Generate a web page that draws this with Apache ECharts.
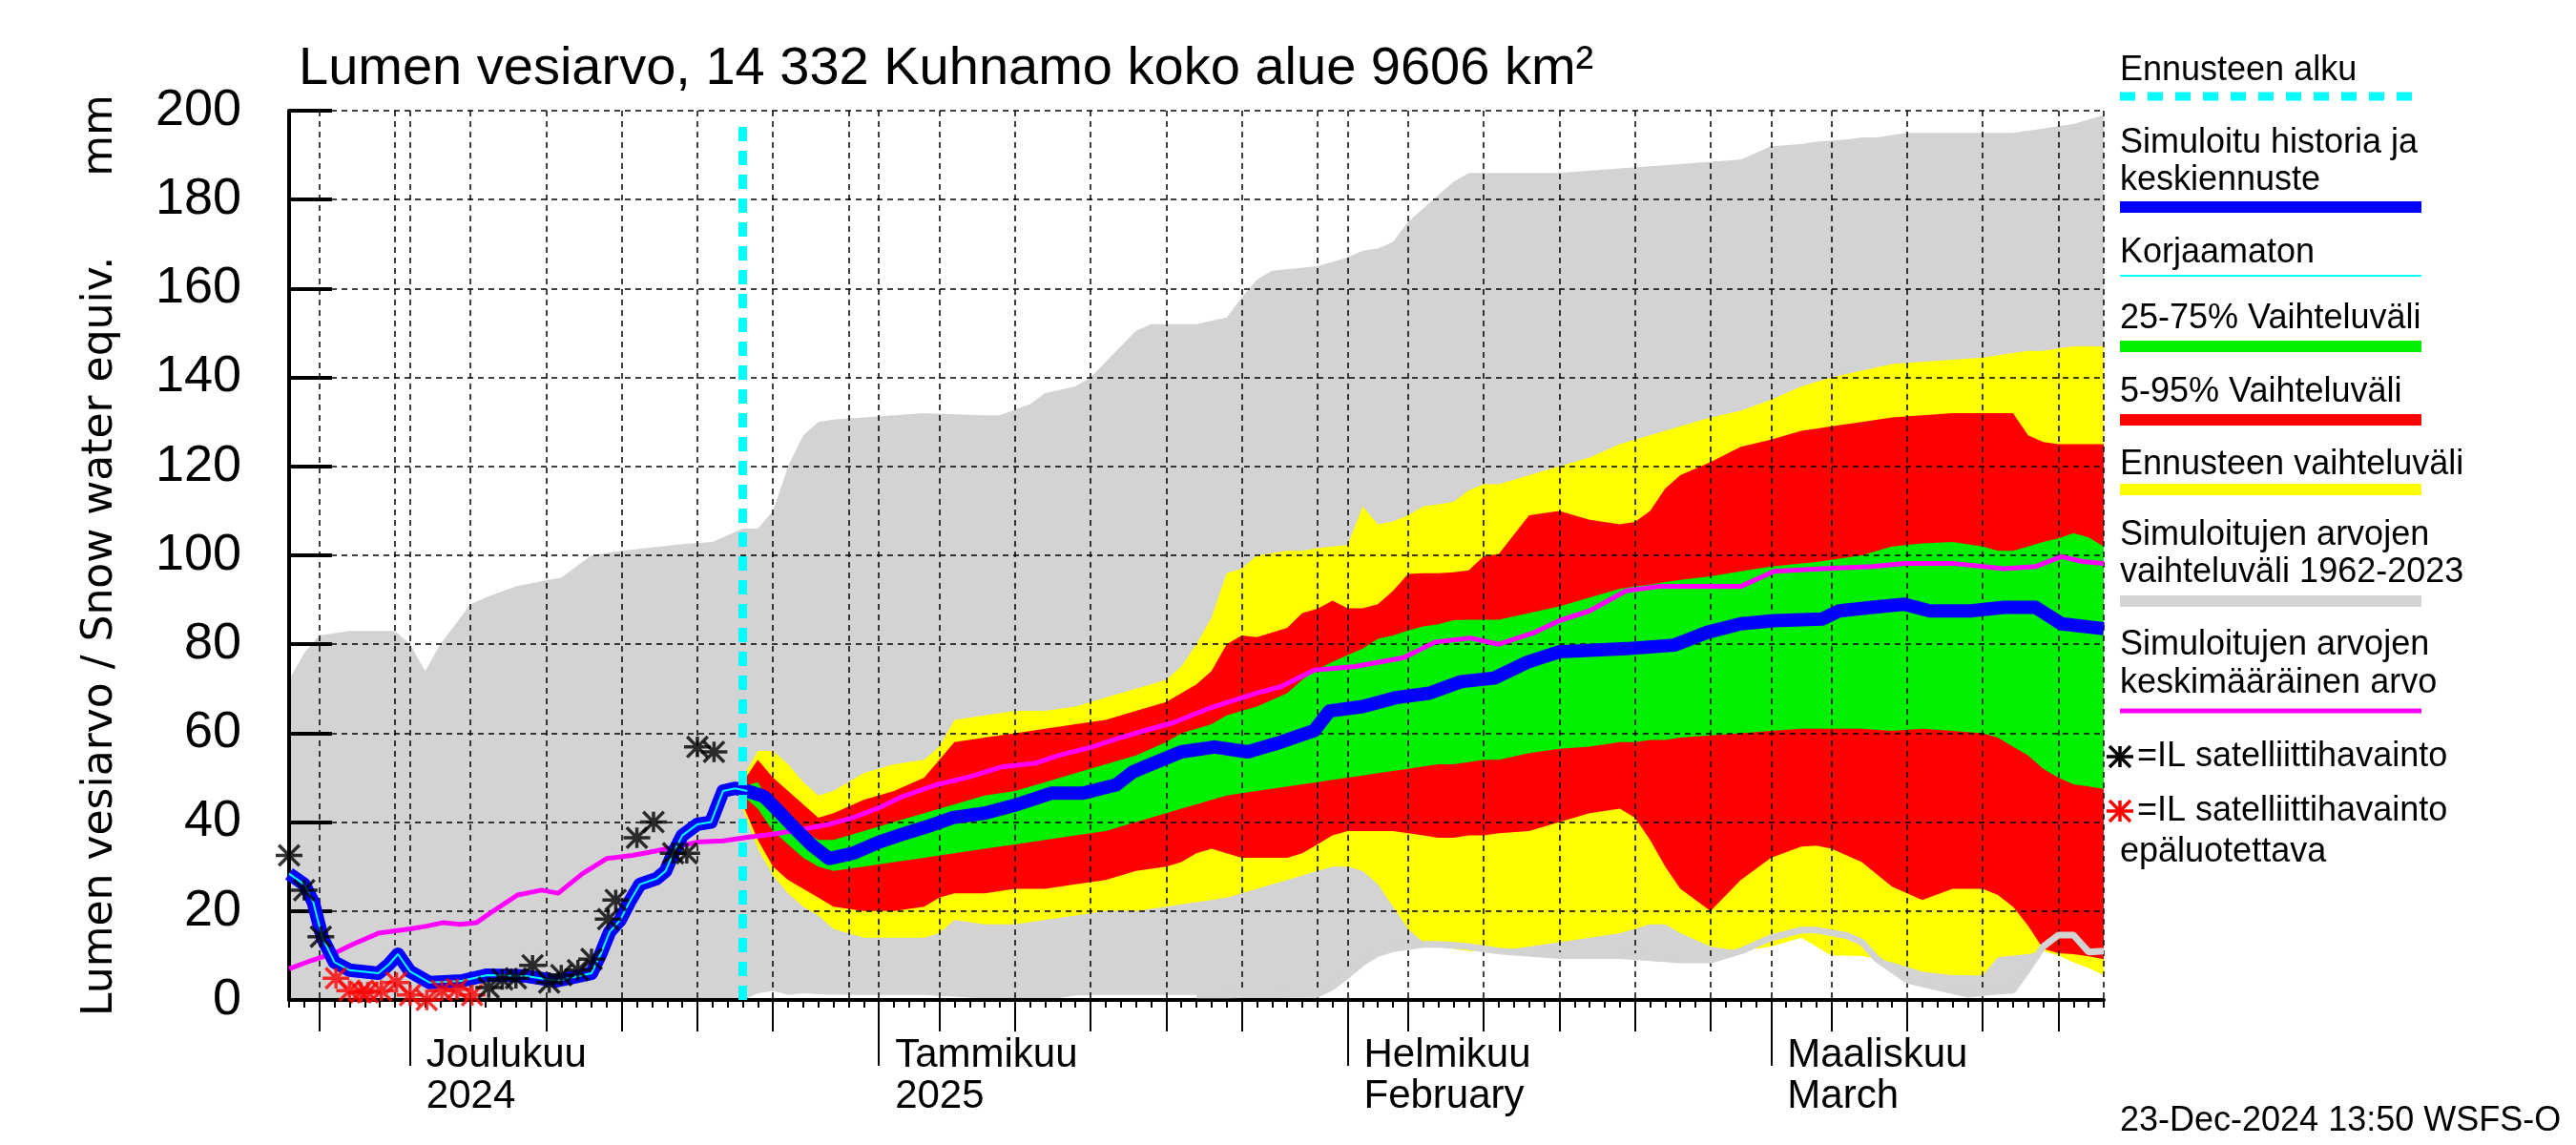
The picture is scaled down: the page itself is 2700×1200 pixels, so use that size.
<!DOCTYPE html>
<html>
<head>
<meta charset="utf-8">
<script src="https://cdn.jsdelivr.net/npm/echarts@6/dist/echarts.min.js"></script>
<style>html,body{margin:0;padding:0;background:#fff}#c{width:2700px;height:1200px}</style>
</head>
<body>
<div id="c"></div>
<script>
// ---------- DATA (day index 0 = 23 Nov 2024, 120 = 23 Mar 2025) ----------
const N_DAYS = 120;
const FORECAST_START = 30;
const MONTH_STARTS = [8, 39, 70, 98];
const MONTH_LABELS = ['Joulukuu\n2024', 'Tammikuu\n2025', 'Helmikuu\nFebruary', 'Maaliskuu\nMarch'];
const MID_TICK_DAYS = [2, 12, 17, 22, 27, 32, 43, 48, 53, 58, 63, 74, 79, 84, 89, 94, 102, 107, 112, 117];
const GRID_DAYS = [2, 7, 8, 12, 17, 22, 27, 32, 37, 39, 43, 48, 53, 58, 63, 68, 70, 74, 79, 84, 89, 94, 98, 102, 107, 112, 117, 120];

// Historical range 1962-2023 (grey)
const GREY_DAYS = [0,1,2,4,7,8,9,10,12,13,15,18,20,22,26,28,30,31,32,33,34,35,36,38,42,46,47,49,50,52,53,55,56,57,60,62,63,64,65,68,69,70,71,72,73,74,75,76,77,78,80,84,88,92,94,96,98,100,101,103,104,105,107,109,111,113,114,115,116,117,118,119,120];
const GREY_MAX = [72,78,82,83,83,80,74,80,89,90.5,93,95,100,101,102.5,103,106,106,110,120,127,130,130.5,131,132,131.5,131.5,134,136.5,138,140,147,150.5,152,152,153.5,158,162,164,165,166,167,168.5,169,170.5,175,178,181,184,186,186,186,187,188,188.5,189,192,192.5,193,193.5,194,194,195,195,195,195,195,195.5,196,196.5,197,198,199];
const GREY_MIN = [0,0,0,0,0,0,0,0,0,0,0,0,0,0,0,0,0,1.5,2,1.2,1.5,1.3,1.2,1.1,1.1,0.3,0,0,0,1,1.1,1.1,1.1,1.1,1.1,1.1,1.2,1.2,1.2,1.3,3,5.6,8.4,10.5,11.5,12,12.5,12.5,12.3,12,11,10,10,9,9,11,14,15.7,15.7,14.5,13,9.2,4.5,2.8,1.3,2,2.2,7,12,14.6,14.6,10.8,11];

// Forecast ranges
const FC_DAYS = [30,31,32,33,34,35,36,38,40,42,43,44,46,48,50,52,54,56,58,59,60,61,62,63,64,66,67,68,69,70,71,72,73,74,75,76,77,78,79,80,82,84,86,88,89,90,91,92,94,96,98,100,101,102,104,106,108,110,112,113,114,115,116,117,118,119,120];
const FC_MAX = [50,56,56,53,49,46,47,51,53,54,57,63,64,65,65,66,68,70,72,75,80,86,96,97,100,101,101,101.6,102,102.3,111,107,107.6,109,111,111.5,112,114.6,116,116,118,120,122,125,126,127,128,129,131,132.5,135,138,139,140,141.5,143,143.5,144,144.5,145,145.5,146,146,146.5,147,147,147];
const P95 = [49,54,50,47,44,41,42,45,47,50,54,58,59,60,61,62,63,65,67,69,71,74,80,82,81.6,83.7,87,88,89.8,88.1,88.1,89,92,95.8,96,96,96.2,96.6,99.8,100.3,109,110,108,107,107.5,110,115,118,121,124.4,126,128,128.5,129,130,131,131.5,132,132,132,132,127,125.5,125,125,125,125];
const P75 = [48,49,43,40,38,36,36,38,40,42,43,44,46,47,49,51,53,55,58,60,61,62,64,65,66,69,72,74.4,76,77.6,79,81.2,82,83.1,84,84.5,85.4,85.5,85.5,85.5,87,88.5,90.5,92.5,93,93.4,94,94.5,95.3,96.4,97.5,98.2,98.5,99,100,102,102.7,103,102,101,101,102,103,103.8,105,104,102];
const P25 = [46,43,38,35,32,30,29,30,31,32,32.5,33,34,35,36,37,38,40,42,43,44,45,46,46.5,47,48,48.5,49,49.5,50,50.5,51,51.5,52,52.5,53,53,53.5,54,54,55.5,56.5,57,58,58,58.5,58.5,59,59.5,60,60.5,61,61,61,61,60.5,61,60.5,60,59,57,55,52,50,48.5,48,47.5];
const P5 = [44,36,30,27,25,23,21,20,20,21,23,24,24,25,25,26,27,29,30,31,33,34,33,32,32,32,33,35,37,38,38,38,38,37.5,37,36.5,36.5,37,37,37.5,38,40,42,43,41,36,30,25,20,27,32,34.5,34.7,34,31,25.5,22.5,25,25,23.6,21,16.7,11.5,10.5,10.3,9.8,9.2];
const FC_MIN = [43,34,28,24,21,19,16,14,14,14,15,18,17,17,18,19,20,20,21,21.5,22,22.5,23,24,25,27,28,29,30,30,29,26,21,16,13,12,11.5,11,11,11,12,13,14,15,16,17,17,15,12,11,12,14,12,10,9.9,8.5,6.4,5.6,5.5,9.6,10,10.3,11,10,8.5,7.2,5.6];

// Simulated history + median forecast (blue)
const SIM_DAYS = [0,1,1.6,2.2,3,4,5.9,6.6,7.2,8,9.3,11.4,13.1,15.6,17.7,20,20.6,21.2,21.9,22.5,23.2,24.3,24.9,25.4,26,27,27.9,28.7,29.5,30.3,31.4,32.5,33.5,34.6,35.7,37.3,39,40.6,42.2,43.9,46,48.2,50.4,52.5,54.7,55.8,57,59,61.2,63.4,65.6,67.8,68.8,71,73.2,75.4,77.5,79.7,81.9,84,88.4,91.6,93.8,96,98.2,101.4,102.5,104.7,106.8,108.5,111.2,113.4,115.5,117.2,120];
const SIM_SWE = [28.4,26,22,14,8.5,6.7,6,8,10.3,6.4,3.9,4.3,5.6,5.4,4.3,6,10.3,15.3,18,22,26,27.3,29,33,37,39.5,40,47,47.6,47,45.8,42,38.4,34.7,31.8,33,35.5,37.3,39,41,42,44,46.5,46.5,48.4,51.3,53,55.8,56.9,55.8,58,60.6,65,66,68,69,71.6,72.4,76,78.3,79,79.8,82.7,84.6,85.3,85.7,87.5,88.3,89,87.5,87.5,88.3,88.3,84.6,83.5];
// Uncorrected (thin cyan, history part)
const RAW_DAYS = [0,1,1.6,2.2,3,4,5.9,6.6,7.2,8,9.3,11.4,13.1,15.6,17.7,20,20.6,21.2,21.9,22.5,23.2,24.3,24.9,25.4,26,27,27.9,28.7,29.5,30.3];
const RAW_SWE = [28.4,26,22,14,8.5,6.7,6,8,10.3,6.4,3.9,4.3,5.6,5.4,4.3,6,10.3,15.3,18,22,26,27.3,29,33,37,39.5,40,47,47.6,47];

// Mean of simulated values (magenta)
const MEAN_DAYS = [0,1.5,3.1,4.2,5.9,8,9.1,10.2,11.3,12.4,13.5,15.1,16.7,17.8,19.4,21,22.7,23.8,25.4,27,28.7,30.3,32,34,35.7,37.3,39,40.6,42.8,45,47.1,49.3,50.9,53.1,54.7,57,58.5,60.7,62.3,64,65.6,67.8,70.5,73.7,75.8,78.1,80,82.4,84,86,88.4,90.6,93.8,96,98.2,101.4,104.7,106.8,110,113.4,115.5,117.2,118.6,120];
const MEAN_SWE = [7,8.9,10.7,12.5,15,16,16.6,17.4,17,17.4,20,23.6,24.7,24,28.4,31.8,32.5,33.2,34.3,35.5,35.8,36.6,37.3,38.4,39.5,41,43.2,45.8,48.4,50.2,52.4,53.2,55,56.9,58.7,61,62.4,65.4,67.2,69,70.5,74.2,75,77,80.5,81.4,80,82.7,85.3,87.5,92,93,93,93,96.4,97,97.5,98.2,98.2,97,97.5,99.7,98.6,98.2];

// Satellite observations
const OBS_DAYS = [0,1,2.1,13.2,14.1,15,16.1,17.2,18,19.1,20,21.1,21.6,23,24.1,25.4,26.3,27,28.1];
const OBS_SWE = [32.5,24.7,14.2,2.8,4.6,4.9,7.8,3.9,5.6,6.7,9.2,18.2,22.5,36.5,40,33,33,56.9,55.8];
const OBS_BAD_DAYS = [3.1,4,4.75,5.2,6.1,7.1,8,9.1,10.1,11.1,12.1];
const OBS_BAD_SWE = [4.9,2.1,1.7,1.7,2.1,3.9,1.1,0,2.1,2.4,1.1];

// ---------- CHART ----------
const FONT = 'Liberation Sans, Arial, Helvetica, sans-serif';
const C_GREY = '#d3d3d3', C_YEL = '#ffff00', C_RED = '#ff0000', C_GRN = '#00f000',
      C_BLUE = '#0000ff', C_MAG = '#ff00ff', C_CYAN = '#00ffff';
const STAR = 'path://M-13,0L13,0M-10,-10L10,10M-10,10L10,-10M0,-10L0,10';

const cats = [];
for (let i = 0; i <= N_DAYS; i++) cats.push(String(i));

function pts(days, vals) { return days.map((d, i) => [d, vals[i]]); }
// filled band between lo and hi, drawn as one polygon through the axes' coordinate system
function band(days, lo, hi, color) {
  const data = days.map((d, i) => [d, lo[i], hi[i]]);
  return {
    type: 'custom', xAxisIndex: 3, yAxisIndex: 0, z: 1, silent: true, animation: false,
    data: data, encode: { x: 0, y: [1, 2] },
    renderItem: function (params, api) {
      if (params.dataIndex !== 0) return null;
      const top = [], bot = [];
      for (let i = 0; i < data.length; i++) {
        top.push(api.coord([data[i][0], data[i][2]]));
        bot.unshift(api.coord([data[i][0], data[i][1]]));
      }
      return { type: 'polygon', shape: { points: top.concat(bot) }, style: { fill: color, stroke: null } };
    }
  };
}

const series = [
  band(GREY_DAYS, GREY_MIN, GREY_MAX, C_GREY),
  band(FC_DAYS, FC_MIN, FC_MAX, C_YEL),
  band(FC_DAYS, P5, P95, C_RED),
  band(FC_DAYS, P25, P75, C_GRN),
  { type: 'line', xAxisIndex: 3, z: 3, symbol: 'none', animation: false,
    data: pts(GREY_DAYS, GREY_MIN).filter(p => p[0] >= 60),
    lineStyle: { color: C_GREY, width: 7 } },
  { type: 'line', xAxisIndex: 3, z: 3, symbol: 'none', animation: false,
    data: pts(MEAN_DAYS, MEAN_SWE), lineStyle: { color: C_MAG, width: 5 } },
  { type: 'line', xAxisIndex: 3, z: 4, symbol: 'none', animation: false,
    data: pts(SIM_DAYS, SIM_SWE), lineStyle: { color: C_BLUE, width: 14, join: 'round' } },
  { type: 'line', xAxisIndex: 3, z: 4, symbol: 'none', animation: false,
    data: pts(RAW_DAYS, RAW_SWE), lineStyle: { color: C_CYAN, width: 2 } },
  { type: 'line', xAxisIndex: 3, z: 4, symbol: 'none', animation: false,
    data: [[FORECAST_START, 0], [FORECAST_START, 197.5]],
    lineStyle: { color: C_CYAN, width: 9, type: [15, 10] } },
  { type: 'scatter', xAxisIndex: 3, z: 5, symbol: STAR, symbolSize: 28, symbolKeepAspect: true, animation: false,
    data: pts(OBS_BAD_DAYS, OBS_BAD_SWE),
    itemStyle: { color: 'rgba(0,0,0,0)', borderColor: C_RED, borderWidth: 3.5 } },
  { type: 'scatter', xAxisIndex: 3, z: 5, symbol: STAR, symbolSize: 28, symbolKeepAspect: true, animation: false,
    data: pts(OBS_DAYS, OBS_SWE),
    itemStyle: { color: 'rgba(0,0,0,0)', borderColor: '#000', borderWidth: 3.5 } }
];

// legend (graphic)
const LX = 2222, LX2 = 2538, LFS = 36;
const legendItems = [
  { lines: ['Ennusteen alku'], ty: [74], ly: 101, color: C_CYAN, w: 9, dash: [16, 13] },
  { lines: ['Simuloitu historia ja', 'keskiennuste'], ty: [150, 189], ly: 217, color: C_BLUE, w: 12 },
  { lines: ['Korjaamaton'], ty: [265], ly: 289, color: C_CYAN, w: 2 },
  { lines: ['25-75% Vaihteluväli'], ty: [334], ly: 363, color: C_GRN, w: 12 },
  { lines: ['5-95% Vaihteluväli'], ty: [411], ly: 440, color: C_RED, w: 12 },
  { lines: ['Ennusteen vaihteluväli'], ty: [487], ly: 513, color: C_YEL, w: 12 },
  { lines: ['Simuloitujen arvojen', 'vaihteluväli 1962-2023'], ty: [561, 600], ly: 630, color: C_GREY, w: 12 },
  { lines: ['Simuloitujen arvojen', 'keskimääräinen arvo'], ty: [676, 716], ly: 745, color: C_MAG, w: 5 }
];
const graphics = [];
legendItems.forEach(it => {
  it.lines.forEach((t, k) => graphics.push({ type: 'text', x: LX, y: it.ty[k], silent: true,
    style: { text: t, fontSize: LFS, fontFamily: FONT, fill: '#000', verticalAlign: 'middle' } }));
  graphics.push({ type: 'line', silent: true, shape: { x1: LX, y1: it.ly, x2: LX2, y2: it.ly },
    style: { stroke: it.color, lineWidth: it.w, lineDash: it.dash || null } });
});
function starGraphic(cx, cy, color) {
  return { type: 'group', x: cx, y: cy, silent: true, children: [
    { type: 'line', shape: { x1: -14, y1: 0, x2: 14, y2: 0 }, style: { stroke: color, lineWidth: 3.5 } },
    { type: 'line', shape: { x1: -11, y1: -11, x2: 11, y2: 11 }, style: { stroke: color, lineWidth: 3.5 } },
    { type: 'line', shape: { x1: -11, y1: 11, x2: 11, y2: -11 }, style: { stroke: color, lineWidth: 3.5 } },
    { type: 'line', shape: { x1: 0, y1: -11, x2: 0, y2: 11 }, style: { stroke: color, lineWidth: 3.5 } }
  ] };
}
graphics.push(starGraphic(2222, 793, '#000'));
graphics.push({ type: 'text', x: 2240, y: 793, silent: true,
  style: { text: '=IL satelliittihavainto', fontSize: LFS, fontFamily: FONT, fill: '#000', verticalAlign: 'middle' } });
graphics.push(starGraphic(2222, 850, C_RED));
graphics.push({ type: 'text', x: 2240, y: 850, silent: true,
  style: { text: '=IL satelliittihavainto', fontSize: LFS, fontFamily: FONT, fill: '#000', verticalAlign: 'middle' } });
graphics.push({ type: 'text', x: LX, y: 893, silent: true,
  style: { text: 'epäluotettava', fontSize: LFS, fontFamily: FONT, fill: '#000', verticalAlign: 'middle' } });
graphics.push({ type: 'text', x: LX, y: 1175, silent: true,
  style: { text: '23-Dec-2024 13:50 WSFS-O', fontSize: LFS, fontFamily: FONT, fill: '#000', verticalAlign: 'middle' } });

const catAxisBase = { type: 'category', data: cats, boundaryGap: false, position: 'bottom', z: 2 };
const option = {
  backgroundColor: '#fff',
  animation: false,
  title: { text: 'Lumen vesiarvo, 14 332 Kuhnamo koko alue 9606 km²', left: 308, top: 40,
    textStyle: { fontSize: 56, fontWeight: 'normal', fontFamily: FONT, color: '#000' } },
  grid: { left: 303, right: 495, top: 116, bottom: 152, containLabel: false },
  xAxis: [
    Object.assign({}, catAxisBase, {
      axisLine: { show: true, lineStyle: { color: '#000', width: 4 } },
      axisTick: { show: true, length: 69, interval: i => MONTH_STARTS.includes(i), lineStyle: { color: '#000', width: 2 } },
      axisLabel: { show: true, interval: i => MONTH_STARTS.includes(i), align: 'left', verticalAlign: 'top',
        margin: 37, padding: [0, 0, 0, 17], fontSize: 42, lineHeight: 43, fontFamily: FONT, color: '#000',
        formatter: (v, i) => { const k = MONTH_STARTS.indexOf(Number(v)); return k >= 0 ? MONTH_LABELS[k] : ''; } },
      splitLine: { show: true, interval: i => GRID_DAYS.includes(i), lineStyle: { color: '#000', width: 1.5, type: [6, 5] } }
    }),
    Object.assign({}, catAxisBase, {
      axisLine: { show: false }, axisLabel: { show: false }, splitLine: { show: false },
      axisTick: { show: true, length: 33, interval: i => MID_TICK_DAYS.includes(i), lineStyle: { color: '#000', width: 2 } }
    }),
    Object.assign({}, catAxisBase, {
      axisLine: { show: false }, axisLabel: { show: false }, splitLine: { show: false },
      axisTick: { show: true, length: 8, interval: 0, lineStyle: { color: '#000', width: 2 } }
    }),
    { type: 'value', min: 0, max: N_DAYS, show: false }
  ],
  yAxis: {
    type: 'value', min: 0, max: 200, interval: 20, z: 2,
    name: 'Lumen vesiarvo / Snow water equiv.      mm', nameLocation: 'middle', nameGap: 175,
    nameTextStyle: { fontSize: 44, fontFamily: 'DejaVu Sans, ' + FONT, color: '#000' },
    axisLine: { show: true, lineStyle: { color: '#000', width: 4 } },
    axisTick: { show: true, inside: true, length: 45, lineStyle: { color: '#000', width: 4 } },
    axisLabel: { fontSize: 54, fontFamily: FONT, color: '#000', margin: 50 },
    splitLine: { show: true, lineStyle: { color: '#000', width: 1.5, type: [6, 5] } }
  },
  graphic: graphics,
  series: series
};
const chart = echarts.init(document.getElementById('c'), null, { renderer: 'canvas' });
chart.setOption(option);
</script>
</body>
</html>
